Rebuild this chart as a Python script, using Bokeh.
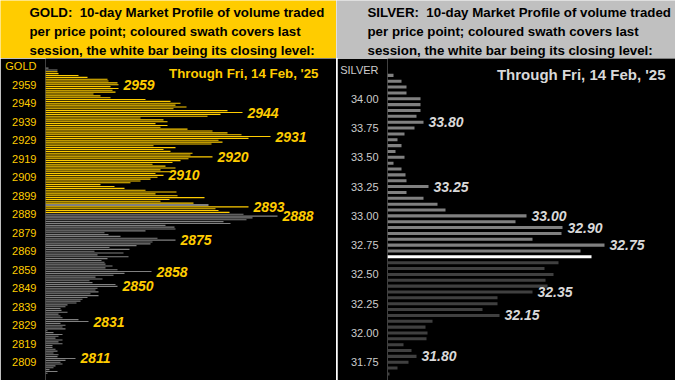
from bokeh.plotting import figure
from bokeh.models import Range1d, FixedTicker, NumeralTickFormatter, ColumnDataSource, Label, Div
from bokeh.layouts import row, column
from bokeh.embed import file_html
from bokeh.resources import INLINE
from bokeh.core.properties import value

# ---------------- GOLD data ----------------
gold_prices = list(range(2968, 2802, -1))
gold_volume = [
    3, 12, 12, 13, 33, 42, 62, 63, 72, 73,               # 2968-2959
    65, 73, 67, 70, 48, 55, 65, 100, 125, 135,           # 2958-2949
    130, 141, 128, 182, 197, 175, 162, 95, 118, 122,     # 2948-2939
    110, 122, 115, 142, 167, 182, 196, 225, 203, 173,    # 2938-2929
    177, 166, 108, 130, 118, 125, 147, 145, 167, 143,    # 2928-2919
    135, 127, 107, 120, 130, 115, 125, 110, 118, 112,    # 2918-2909
    105, 95, 85, 55, 69, 79, 100, 131, 110, 132,         # 2908-2899
    159, 124, 115, 148, 163, 203, 170, 173, 184, 198,    # 2898-2889
    232, 207, 201, 178, 185, 120, 129, 130, 100, 59,     # 2888-2879
    63, 75, 112, 130, 107, 105, 91, 64, 84, 49,          # 2878-2869
    78, 52, 83, 62, 56, 59, 60, 67, 60, 72,              # 2868-2859
    106, 79, 68, 50, 57, 44, 47, 70, 72, 52,             # 2858-2849
    50, 53, 45, 53, 42, 37, 35, 31, 22, 20,              # 2848-2839
    15, 16, 22, 13, 15, 17, 33, 43, 15, 20,              # 2838-2829
    17, 20, 2, 8, 17, 13, 10, 17, 13, 17,                # 2828-2819
    7, 7, 10, 12, 8, 13, 12, 30, 20, 15,                 # 2818-2809
    17, 10, 8, 4, 12, 2,                                 # 2808-2803
]
gold_close = 2894
gold_swath = (2890, 2966)
gold_ticks = [2809, 2819, 2829, 2839, 2849, 2859, 2869, 2879, 2889, 2899,
              2909, 2919, 2929, 2939, 2949, 2959]
gold_peaks = [2959, 2944, 2931, 2920, 2910, 2893, 2888, 2875, 2858, 2850, 2831, 2811]

# ---------------- SILVER data ----------------
silver_prices = [34.20, 34.15, 34.10, 34.05, 34.00, 33.95, 33.90, 33.85, 33.80, 33.75,
                 33.70, 33.65, 33.60, 33.55, 33.50, 33.45, 33.40, 33.35, 33.30, 33.25,
                 33.20, 33.15, 33.10, 33.05, 33.00, 32.95, 32.90, 32.85, 32.80, 32.75,
                 32.70, 32.65, 32.60, 32.55, 32.50, 32.45, 32.40, 32.35, 32.30, 32.25,
                 32.20, 32.15, 32.10, 32.05, 32.00, 31.95, 31.90, 31.85, 31.80, 31.75,
                 31.70, 31.65]
silver_volume = [6, 14, 19, 19, 33, 33, 33, 29, 36, 27,
                 17, 10, 14, 8, 17, 6, 14, 18, 19, 41,
                 19, 36, 50, 58, 139, 128, 175, 174, 145, 217,
                 193, 204, 171, 157, 166, 158, 160, 145, 110, 110,
                 95, 112, 45, 38, 40, 39, 16, 24, 29, 21,
                 10, 2]
silver_close = 32.65
silver_swath = (32.70, 34.20)
silver_ticks = [31.75, 32.00, 32.25, 32.50, 32.75, 33.00, 33.25, 33.50, 33.75, 34.00]
silver_peaks = [33.80, 33.25, 33.00, 32.90, 32.75, 32.35, 32.15, 31.80]

header_gold = ["GOLD:\u00a0 10-day Market Profile of volume traded",
               "per price point; coloured swath covers last",
               "session, the white bar being its closing level:"]
header_silver = ["SILVER:\u00a0 10-day Market Profile of volume traded",
                 "per price point; coloured swath covers last",
                 "session, the white bar being its closing level:"]
through_text = "Through Fri, 14 Feb, '25"

GOLD = "#FFCC00"
SILVER_HDR = "#C0C0C0"
FONT = "Liberation Sans"
HDR_H = 58
PLOT_H = 322


def header(lines, bg, width, text_x):
    h = figure(width=width, height=HDR_H, x_range=Range1d(0, width), y_range=Range1d(HDR_H, 0),
               output_backend="svg", toolbar_location=None, x_axis_location=None,
               y_axis_location=None, min_border=0, background_fill_color=bg,
               border_fill_color=bg, outline_line_color=None)
    h.xgrid.visible = False
    h.ygrid.visible = False
    h.text(x=[text_x] * 3, y=[12, 31, 50], text=lines, text_baseline="middle",
           text_align="left", text_font=value(FONT), text_font_style="bold",
           text_font_size="13.3px", text_color="black")
    return h


def panel(width, left_border, xmax, yr, prices, vols, close, swath, swath_col, other_col,
          bar_h, ticks, top_tick, top_name, fmt, lab_col, peaks, peak_col, peak_fmt,
          thr_x, thr_y, thr_size, thr_col):
    p = figure(width=width, height=PLOT_H, x_range=Range1d(0, xmax), y_range=Range1d(*yr),
               output_backend="svg", toolbar_location=None, x_axis_location=None,
               min_border_left=left_border, min_border_right=0, min_border_top=0,
               min_border_bottom=0, background_fill_color="black", border_fill_color="black",
               outline_line_color=None)
    p.xgrid.visible = False
    p.ygrid.visible = False
    cols = []
    for pr in prices:
        if abs(pr - close) < 1e-6:
            cols.append("white")
        elif swath[0] - 1e-6 <= pr <= swath[1] + 1e-6:
            cols.append(swath_col)
        else:
            cols.append(other_col)
    src = ColumnDataSource(dict(price=prices, vol=vols, color=cols))
    p.hbar(y="price", left=0, right="vol", height=bar_h, fill_color="color",
           line_color=None, source=src)

    ax = p.yaxis[0]
    ax.ticker = FixedTicker(ticks=ticks + [top_tick])
    ax.formatter = NumeralTickFormatter(format=fmt)
    ax.major_label_overrides = {top_tick: top_name}
    ax.axis_line_color = None
    ax.major_tick_line_color = None
    ax.minor_tick_line_color = None
    ax.major_tick_out = 0
    ax.major_tick_in = 0
    ax.major_label_standoff = 9
    ax.major_label_text_color = lab_col
    ax.major_label_text_font = FONT
    ax.major_label_text_font_size = "11px"

    pk_vol = [vols[prices.index(v)] for v in peaks]
    pk_src = ColumnDataSource(dict(price=peaks, vol=pk_vol,
                                   label=[peak_fmt.format(v) for v in peaks]))
    p.text(x="vol", y="price", text="label", source=pk_src, x_offset=5,
           text_baseline="middle", text_align="left", text_font=value(FONT),
           text_font_style="bold italic", text_font_size="14px", text_color=peak_col)

    p.add_layout(Label(x=thr_x, y=thr_y, text=through_text, text_align="right",
                       text_baseline="middle", text_font=FONT, text_font_style="bold",
                       text_font_size=thr_size, text_color=thr_col))
    return p


gold_fig = panel(336, 45, 291, (2799.1, 2973.2), gold_prices, gold_volume, gold_close,
                 gold_swath, GOLD, "#808080", 0.6, gold_ticks, 2969, "GOLD", "0", GOLD,
                 gold_peaks, GOLD, "{:d}", 273, 2965.1, "13.3px", GOLD)
silver_fig = panel(338, 50, 288, (31.594, 34.344), silver_prices, silver_volume, silver_close,
                   silver_swath, "#808080", "#404040", 0.026, silver_ticks, 34.25, "SILVER",
                   "0.00", "#CCCCCC", silver_peaks, "#D9D9D9", "{:.2f}", 278, 34.208,
                   "15px", "#D9D9D9")

gold_hdr = header(header_gold, GOLD, 336, 29)
silver_hdr = header(header_silver, SILVER_HDR, 339, 31)
sep = Div(text="", width=1, height=PLOT_H, margin=0, styles={"background-color": "white"})

layout = row(column(row(gold_hdr, spacing=0), row(gold_fig, spacing=0), spacing=0),
             column(row(silver_hdr, spacing=0), row(sep, silver_fig, spacing=0), spacing=0),
             spacing=0)

open("out.html", "w").write(file_html(layout, INLINE))
